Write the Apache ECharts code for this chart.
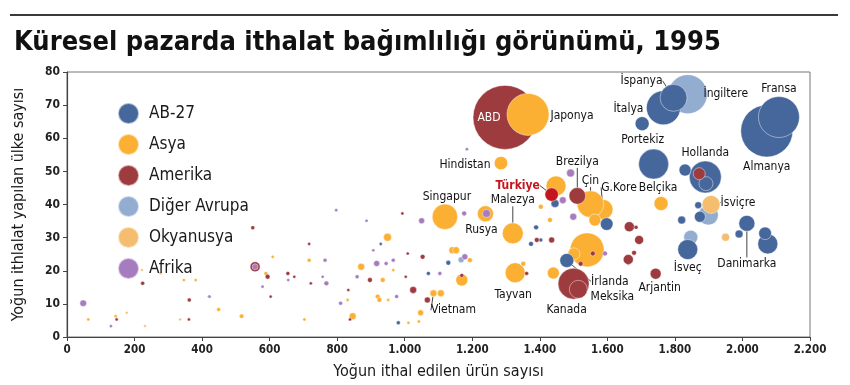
<!DOCTYPE html>
<html>
<head>
<meta charset="utf-8">
<script src="https://cdn.jsdelivr.net/npm/echarts@6/dist/echarts.min.js"></script>
<style>
html,body{margin:0;padding:0;background:#fff;}
#chart{width:850px;height:385px;}
</style>
</head>
<body>
<div id="chart"></div>
<script>
// ---- DATA: [ülke adı, yoğun ithal edilen ürün sayısı, yoğun ithalat yapılan ülke sayısı, ithalat hacmi] ----
const gruplar = ['AB-27', 'Asya', 'Amerika', 'Diğer Avrupa', 'Okyanusya', 'Afrika'];

const ab27 = [
  ['Almanya', 2072, 62.2, 676], ['Fransa', 2108, 66.4, 420], ['İtalya', 1766, 69.2, 289],
  ['İspanya', 1796, 72.2, 182], ['', 1703, 64.4, 49], ['Portekiz', 1737, 52.2, 225],
  ['Hollanda', 1890, 48.3, 256], ['', 1892, 46.3, 49], ['', 1830, 50.4, 36],
  ['', 1869, 39.8, 12], ['', 1874, 36.3, 30], ['', 1820, 35.3, 16],
  ['İsveç', 1838, 26.4, 100], ['', 2075, 28.1, 100], ['', 2067, 31.3, 40],
  ['Danimarka', 2013, 34.3, 64], ['', 1990, 31.1, 16], ['', 1598, 34.1, 40],
  ['İrlanda', 1480, 23.1, 49], ['', 1445, 40.3, 16], ['', 1389, 33.1, 6],
  ['', 1403, 29.3, 4], ['', 1374, 28.1, 6], ['', 1677, 33.1, 4],
  ['', 1129, 22.4, 6], ['', 1070, 19.2, 4], ['', 929, 28.1, 2.5],
  ['', 981, 4.3, 4], ['', 421, 12.2, 2.5]
];

const digerAvrupa = [
  ['İngiltere', 1838, 73.3, 380], ['', 1899, 36.8, 100], ['', 1847, 30.1, 49],
  ['', 1662, 22.2, 4], ['', 1552, 35.3, 4], ['', 1167, 23.3, 9]
];

const asya = [
  ['Japonya', 1365, 67.2, 441], ['Hindistan', 1285, 52.5, 45], ['Singapur', 1119, 36.3, 161],
  ['Rusya', 1239, 37.2, 64], ['Malezya', 1320, 31.3, 110], ['', 1448, 45.6, 100],
  ['G.Kore', 1587, 38.5, 100], ['Çin', 1550, 40.1, 177], ['', 1563, 35.3, 36],
  ['', 1540, 26.3, 289], ['', 1501, 25.1, 36], ['Tayvan', 1327, 19.4, 100],
  ['', 1351, 22.1, 6], ['', 1440, 19.3, 36], ['', 1430, 35.3, 6],
  ['', 1403, 39.3, 6], ['Belçika', 1759, 40.3, 49], ['', 1169, 17.2, 36],
  ['', 1141, 26.2, 12], ['', 1152, 26.2, 12], ['', 1193, 23.2, 6],
  ['Vietnam', 1085, 13.2, 12], ['', 1107, 13.2, 12], ['', 949, 30.1, 16],
  ['', 871, 21.2, 12], ['', 935, 17.2, 6], ['', 920, 12.2, 6],
  ['', 925, 11.2, 6], ['', 951, 11.2, 2.5], ['', 1047, 7.3, 9],
  ['', 846, 6.3, 12], ['', 1011, 4.3, 2.5], ['', 1042, 4.7, 2.5],
  ['', 717, 23.2, 4], ['', 589, 19.2, 4], ['', 609, 24.2, 2.5],
  ['', 517, 6.3, 5], ['', 449, 8.3, 4], ['', 703, 5.3, 2.5],
  ['', 966, 20.2, 2.5], ['', 831, 11.2, 2.5], ['', 63, 5.3, 2.5],
  ['', 144, 6.3, 2.5], ['', 346, 17.2, 2.5], ['', 381, 17.2, 2.5]
];

const amerikaBuyuk = [
  ['ABD', 1297, 66.3, 1024]
];

const amerika = [
  ['Türkiye', 1435, 43.0, 45], ['Brezilya', 1511, 42.6, 69], ['Kanada', 1500, 16.1, 240],
  ['Meksika', 1514, 14.4, 81], ['Arjantin', 1743, 19.1, 30], ['', 1665, 33.3, 25],
  ['', 1685, 33.1, 4], ['', 1694, 29.3, 20], ['', 1662, 23.4, 25],
  ['', 1679, 25.4, 6], ['', 1872, 49.3, 36], ['', 1557, 25.2, 6],
  ['', 1521, 22.1, 6], ['', 1361, 19.2, 4], ['', 1391, 29.3, 6],
  ['', 1435, 29.3, 9], ['', 1169, 18.6, 4], ['', 1053, 24.2, 6],
  ['', 1025, 14.2, 12], ['', 1067, 11.2, 9], ['', 1009, 25.2, 2.5],
  ['', 993, 37.3, 2.5], ['', 897, 17.2, 6], ['', 833, 14.2, 2.5],
  ['', 838, 5.3, 2.5], ['', 717, 28.1, 2.5], ['', 722, 16.2, 2.5],
  ['', 654, 19.2, 4], ['', 673, 18.2, 2.5], ['', 594, 18.2, 6],
  ['', 603, 12.2, 2.5], ['', 557, 21.2, 25], ['', 550, 33.0, 4],
  ['', 224, 16.2, 4], ['', 362, 11.2, 4], ['', 147, 5.3, 2.5],
  ['', 361, 5.3, 2.5], ['', 1003, 18.2, 2.5]
];

const okyanusya = [
  ['İsviçre', 1907, 40.0, 81], ['', 1950, 30.1, 16], ['', 277, 19.2, 2],
  ['', 222, 20.2, 2], ['', 177, 7.3, 2], ['', 335, 5.3, 2], ['', 231, 3.3, 2]
];

const afrika = [
  ['', 557, 21.2, 9], ['', 48, 10.2, 11], ['', 1491, 49.5, 16],
  ['', 1468, 41.3, 12], ['', 1499, 36.3, 12], ['', 1242, 37.3, 16],
  ['', 1050, 35.1, 9], ['', 1178, 24.2, 9], ['', 1104, 19.2, 4],
  ['', 1593, 25.2, 6], ['', 1184, 56.7, 2.5], ['', 1176, 37.3, 6],
  ['', 917, 22.2, 9], ['', 945, 22.2, 4], ['', 966, 23.2, 4],
  ['', 859, 18.2, 4], ['', 976, 12.2, 4], ['', 810, 10.2, 4],
  ['', 797, 38.3, 2.5], ['', 887, 35.1, 2.5], ['', 764, 23.2, 4],
  ['', 768, 16.2, 6], ['', 757, 18.2, 2.5], ['', 579, 15.2, 2.5],
  ['', 655, 17.2, 2.5], ['', 422, 12.2, 2.5], ['', 130, 3.3, 2.5],
  ['', 907, 26.2, 2.5]
];

const xTikler = [0, 200, 400, 600, 800, 1000, 1200, 1400, 1600, 1800, 2000, 2200];
const yTikler = [0, 10, 20, 30, 40, 50, 60, 70, 80];

const baslik = 'Küresel pazarda ithalat bağımlılığı görünümü, 1995';
const xAdi = 'Yoğun ithal edilen ürün sayısı';
const yAdi = 'Yoğun ithlalat yapılan ülke sayısı';

// ---- STYLE ----
const FONT = "'DejaVu Sans Condensed', 'Liberation Sans Narrow', 'DejaVu Sans', sans-serif";
const renkler = {
  'AB-27': '#46679b', 'Asya': '#fbb034', 'Amerika': '#9e3b3e',
  'Diğer Avrupa': '#93add0', 'Okyanusya': '#f5bd6e', 'Afrika': '#a57dbf'
};
const ozelRenk = { 'Türkiye': '#c4161c' };
// label offsets (px, centre to centre) and whether a leader line is drawn
const etiketKaydir = {
  'ABD': [-16, 0, false], 'Japonya': [44, 1, false], 'Hindistan': [-36, 2, false],
  'Brezilya': [0, -34, true], 'Türkiye': [-34, -9, true], 'Çin': [0, -23, true],
  'G.Kore': [16, -22, true], 'Belçika': [-3, -16, false], 'Singapur': [2, -20, false],
  'Malezya': [0, -33, true], 'Rusya': [-4, 16, false], 'Tayvan': [-2, 22, false],
  'Vietnam': [20, 17, true], 'Kanada': [-7, 26, false], 'İrlanda': [43, 21, true],
  'Meksika': [34, 8, false], 'Arjantin': [4, 14, false], 'İsveç': [0, 18, false],
  'Danimarka': [0, 40, true], 'İsviçre': [27, -2, true], 'Hollanda': [0, -24, false],
  'Portekiz': [-11, -24, false], 'İtalya': [-35, 1, false], 'İspanya': [-32, -17, true],
  'İngiltere': [38, 0, false], 'Fransa': [0, -28, false], 'Almanya': [0, 36, false]
};

function noktalar(liste) {
  return liste.map(function (d) {
    const item = { name: d[0], value: [d[1], d[2], d[3]] };
    if (ozelRenk[d[0]]) item.itemStyle = { color: ozelRenk[d[0]] };
    if (d[0]) {
      const k = etiketKaydir[d[0]];
      item.label = {
        show: true,
        formatter: '{b}',
        position: 'inside',
        fontFamily: FONT,
        fontSize: 12,
        color: d[0] === 'ABD' ? '#fff' : (d[0] === 'Türkiye' ? '#c4161c' : '#111'),
        fontWeight: d[0] === 'Türkiye' ? 'bold' : 'normal'
      };
      item.labelLine = { show: !!(k && k[2]), lineStyle: { color: '#444', width: 1 } };
    }
    return item;
  });
}

function seri(ad, liste) {
  return {
    name: ad,
    type: 'scatter',
    data: noktalar(liste),
    symbolSize: function (v) { return 2 * Math.sqrt(v[2]); },
    itemStyle: { color: renkler[ad], borderColor: 'rgba(255,255,255,0.55)', borderWidth: 0.8, opacity: 1 },
    emphasis: { disabled: true },
    label: { show: false },
    labelLayout: function (p) {
      const k = etiketKaydir[liste[p.dataIndex][0]];
      return k ? { dx: k[0], dy: k[1] } : {};
    },
    animation: false
  };
}

function binlik(v) { return String(v).replace(/\B(?=(\d{3})+(?!\d))/g, '.'); }

const chart = echarts.init(document.getElementById('chart'), null, { renderer: 'canvas' });
chart.setOption({
  backgroundColor: '#fff',
  animation: false,
  title: {
    text: baslik, left: 9, top: 24,
    textStyle: { fontFamily: FONT, fontSize: 27, fontWeight: 'bold', color: '#111' }
  },
  graphic: [{
    type: 'line', shape: { x1: 10, y1: 15, x2: 838, y2: 15 },
    style: { stroke: '#3a3a3a', lineWidth: 2 }
  }],
  legend: {
    data: gruplar, orient: 'vertical', left: 112, top: 97,
    itemWidth: 21, itemHeight: 21, itemGap: 8, icon: 'circle',
    textStyle: { fontFamily: FONT, fontSize: 17, color: '#1a1a1a', padding: [0, 0, 0, 5] },
    selectedMode: false
  },
  grid: { left: 67, right: 40, top: 72, bottom: 45, show: true, borderColor: '#777', borderWidth: 1 },
  xAxis: {
    type: 'value', min: xTikler[0], max: xTikler[xTikler.length - 1], interval: xTikler[1] - xTikler[0],
    name: xAdi, nameLocation: 'middle', nameGap: 27,
    nameTextStyle: { fontFamily: FONT, fontSize: 16, color: '#1a1a1a' },
    axisLine: { lineStyle: { color: '#444', width: 1.2 } },
    axisTick: { show: true, length: 4, lineStyle: { color: '#444' } },
    axisLabel: { formatter: binlik, fontFamily: FONT, fontSize: 11.5, fontWeight: 'bold', color: '#222', margin: 7 },
    splitLine: { show: false }
  },
  yAxis: {
    type: 'value', min: yTikler[0], max: yTikler[yTikler.length - 1], interval: yTikler[1] - yTikler[0],
    name: yAdi, nameLocation: 'middle', nameGap: 40,
    nameTextStyle: { fontFamily: FONT, fontSize: 16, color: '#1a1a1a' },
    axisLine: { show: true, lineStyle: { color: '#444', width: 1.2 } },
    axisTick: { show: true, length: 4, lineStyle: { color: '#444' } },
    axisLabel: { fontFamily: FONT, fontSize: 12, fontWeight: 'bold', color: '#222', margin: 7 },
    splitLine: { show: false }
  },
  series: [
    seri('Amerika', amerikaBuyuk),
    seri('Diğer Avrupa', digerAvrupa),
    seri('Asya', asya),
    seri('AB-27', ab27),
    seri('Amerika', amerika),
    seri('Okyanusya', okyanusya),
    seri('Afrika', afrika)
  ]
});
</script>
</body>
</html>
